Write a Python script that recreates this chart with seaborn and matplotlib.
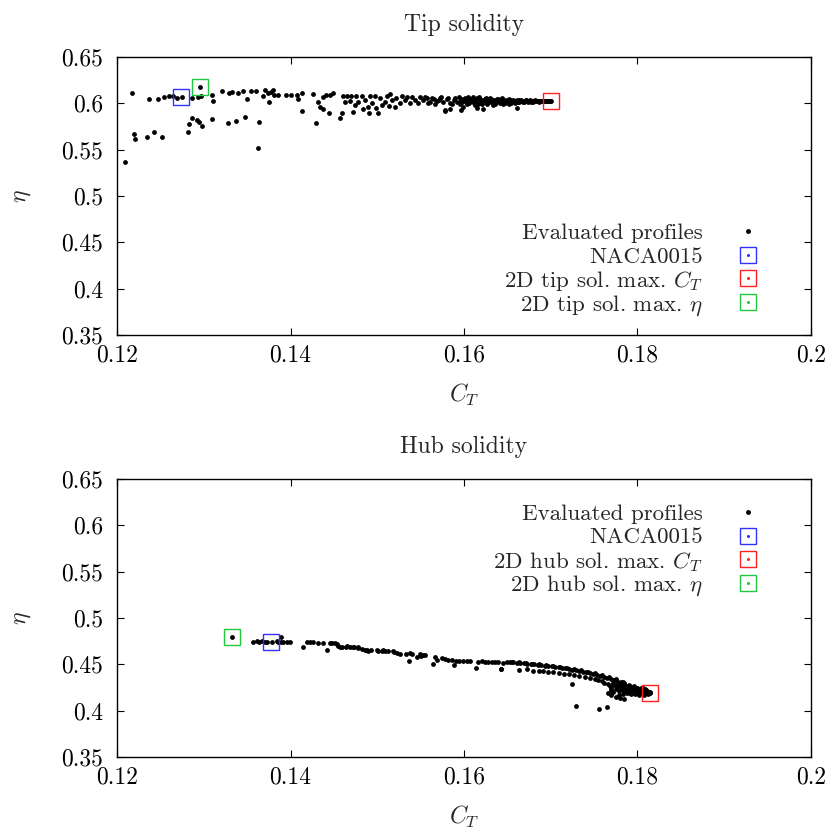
import matplotlib
matplotlib.use("Agg")
import matplotlib.pyplot as plt
import seaborn as sns
import pandas as pd
from matplotlib.ticker import FuncFormatter

# Data (C_T, eta)

tip_points = [
    (0.1209, 0.537), (0.1217, 0.6115), (0.1220, 0.5669), (0.1221, 0.5612), (0.1235, 0.564),
    (0.1237, 0.6044), (0.1243, 0.5688), (0.1247, 0.6047), (0.1252, 0.564), (0.1254, 0.6065),
    (0.1260, 0.6079), (0.1265, 0.6079), (0.1269, 0.6058), (0.1275, 0.6072), (0.1282, 0.5694),
    (0.1283, 0.5774), (0.1287, 0.5839), (0.1287, 0.6061), (0.1292, 0.582), (0.1293, 0.6065),
    (0.1295, 0.5802), (0.1296, 0.618), (0.1297, 0.6079), (0.1298, 0.5759), (0.1309, 0.6093),
    (0.1310, 0.5828), (0.1311, 0.6028), (0.1321, 0.6133), (0.1328, 0.5785), (0.1329, 0.6115),
    (0.1333, 0.6122), (0.1337, 0.5809), (0.1340, 0.6115), (0.1345, 0.6133), (0.1348, 0.5849),
    (0.1350, 0.605), (0.1355, 0.6133), (0.1360, 0.6133), (0.1363, 0.5515), (0.1364, 0.5795),
    (0.1368, 0.6079), (0.1371, 0.614), (0.1374, 0.6108), (0.1375, 0.6014), (0.1377, 0.6126),
    (0.1380, 0.6144), (0.1381, 0.6087), (0.1386, 0.609), (0.1395, 0.609), (0.1401, 0.609),
    (0.1407, 0.609), (0.1413, 0.6108), (0.1409, 0.6044), (0.1413, 0.5921), (0.1426, 0.6101),
    (0.1429, 0.5791), (0.1432, 0.6014), (0.1434, 0.5964), (0.1437, 0.6072), (0.1438, 0.5936),
    (0.1441, 0.6093), (0.1444, 0.59), (0.1446, 0.609), (0.1449, 0.6108), (0.1457, 0.5839),
    (0.1459, 0.5893), (0.1461, 0.6079), (0.1463, 0.6018), (0.1465, 0.6079), (0.1469, 0.6028),
    (0.1470, 0.6079), (0.1472, 0.591), (0.1474, 0.5982), (0.1476, 0.6079), (0.1478, 0.6018),
    (0.1482, 0.6079), (0.1484, 0.5936), (0.1486, 0.6036), (0.1489, 0.5964), (0.1490, 0.5893),
    (0.1492, 0.6079), (0.1494, 0.6), (0.1497, 0.6079), (0.1499, 0.5946), (0.1501, 0.5893),
    (0.1503, 0.6054), (0.1505, 0.5982), (0.1509, 0.6018), (0.1511, 0.6079), (0.1513, 0.5971),
    (0.1515, 0.6101), (0.1517, 0.6036), (0.1520, 0.5964), (0.1522, 0.6054), (0.1526, 0.6),
    (0.1528, 0.6079), (0.1532, 0.6036), (0.1534, 0.6072), (0.1538, 0.6007), (0.1540, 0.6065),
    (0.1544, 0.6036), (0.1547, 0.6007), (0.1549, 0.6072), (0.1553, 0.6036), (0.1557, 0.6054),
    (0.1561, 0.6018), (0.1565, 0.6044), (0.1569, 0.6028), (0.1572, 0.6054), (0.1576, 0.6018),
    (0.1578, 0.5921), (0.1580, 0.6044), (0.1584, 0.6007), (0.1588, 0.6036), (0.1592, 0.6018),
    (0.1595, 0.5993), (0.1597, 0.6044), (0.1599, 0.5964), (0.1603, 0.6018),
    (0.1578, 0.5928), (0.1584, 0.594), (0.1597, 0.5928), (0.1615, 0.5946), (0.1622, 0.5939),
    (0.1661, 0.5946), (0.1633, 0.5985), (0.1645, 0.599), (0.1652, 0.5995),
    (0.1555, 0.6068), (0.1559, 0.6005), (0.1563, 0.6062), (0.1567, 0.5998), (0.1571, 0.6040),
    (0.1574, 0.6068), (0.1582, 0.6060), (0.1586, 0.5990), (0.1590, 0.6055), (0.1594, 0.6068),
    (0.1596, 0.6030), (0.1598, 0.6010), (0.1600, 0.6048),
    (0.1601, 0.6058), (0.1602, 0.6012), (0.1603, 0.6036), (0.1605, 0.6072), (0.1606, 0.6),
    (0.1607, 0.6044), (0.1608, 0.6025), (0.1610, 0.6065), (0.1611, 0.6005), (0.1612, 0.604),
    (0.1614, 0.6018), (0.1615, 0.6058), (0.1616, 0.5995), (0.1618, 0.6032), (0.1619, 0.605),
    (0.1620, 0.601), (0.1622, 0.604), (0.1623, 0.6022), (0.1625, 0.606), (0.1626, 0.6002),
    (0.1628, 0.6035), (0.1629, 0.6015), (0.1631, 0.6048), (0.1632, 0.6028), (0.1634, 0.6005),
    (0.1635, 0.604), (0.1637, 0.602), (0.1638, 0.6052), (0.1640, 0.603), (0.1641, 0.601),
    (0.1643, 0.6042), (0.1645, 0.6022), (0.1646, 0.6035), (0.1648, 0.6012), (0.1650, 0.604),
    (0.1651, 0.6025), (0.1653, 0.6032), (0.1655, 0.6015), (0.1656, 0.6038), (0.1658, 0.6022),
    (0.1660, 0.603), (0.1662, 0.6018), (0.1663, 0.6036), (0.1665, 0.6025), (0.1667, 0.603),
    (0.1669, 0.602), (0.1671, 0.6032), (0.1673, 0.6024), (0.1675, 0.6028), (0.1677, 0.602),
    (0.1679, 0.603), (0.1681, 0.6025), (0.1683, 0.6028), (0.1685, 0.6022), (0.1687, 0.6027),
    (0.1689, 0.6024), (0.1691, 0.6028), (0.1693, 0.6025), (0.1695, 0.6027), (0.1697, 0.6025),
    (0.1700, 0.6025),
    (0.1604, 0.5990), (0.1609, 0.6052), (0.1613, 0.5985), (0.1617, 0.6068), (0.1621, 0.5998),
    (0.1624, 0.6048), (0.1627, 0.5992), (0.1630, 0.6060), (0.1633, 0.6018), (0.1636, 0.5998),
    (0.1639, 0.6045), (0.1642, 0.6000), (0.1644, 0.6055), (0.1647, 0.6002), (0.1649, 0.6028),
    (0.1652, 0.6046), (0.1654, 0.6005), (0.1657, 0.6028), (0.1659, 0.6008), (0.1661, 0.6040),
    (0.1664, 0.6010), (0.1666, 0.6038), (0.1668, 0.6014), (0.1670, 0.6026), (0.1672, 0.6036),
    (0.1674, 0.6016), (0.1676, 0.6034), (0.1678, 0.6026), (0.1680, 0.6018), (0.1682, 0.6032),
    (0.1684, 0.6030), (0.1686, 0.6018), (0.1688, 0.6031), (0.1690, 0.6021), (0.1692, 0.6030),
    (0.1694, 0.6022), (0.1696, 0.6029), (0.1698, 0.6022), (0.1699, 0.6028),
]

hub_points = [
    (0.1333, 0.480), (0.13564, 0.4741), (0.1361, 0.4748), (0.1364, 0.4745), (0.13668, 0.4748),
    (0.13706, 0.4741), (0.13732, 0.4745), (0.13783, 0.4741), (0.1384, 0.4748), (0.1386, 0.4738),
    (0.13887, 0.4795), (0.13887, 0.4745), (0.13917, 0.4741), (0.13956, 0.4745), (0.13994, 0.4745),
    (0.1414, 0.4687), (0.14186, 0.4741), (0.14225, 0.4741), (0.14263, 0.4741), (0.1432, 0.473),
    (0.14378, 0.473), (0.14425, 0.4652), (0.14455, 0.473), (0.14475, 0.473), (0.14513, 0.473),
    (0.14532, 0.472), (0.14551, 0.4695), (0.1457, 0.4684), (0.1459, 0.4684), (0.1464, 0.4684),
    (0.14648, 0.4695), (0.14686, 0.4684), (0.14724, 0.4684), (0.14732, 0.4684), (0.1478, 0.4677),
    (0.14782, 0.4684), (0.1482, 0.4669), (0.14859, 0.4658), (0.14878, 0.4659), (0.14897, 0.4647),
    (0.14925, 0.4658), (0.14993, 0.4652), (0.15012, 0.4641), (0.15051, 0.4647), (0.1507, 0.4652),
    (0.15089, 0.4641), (0.15127, 0.4641), (0.15185, 0.4641), (0.15193, 0.4633), (0.15224, 0.4623),
    (0.15262, 0.4612), (0.15331, 0.4612), (0.1537, 0.454), (0.15377, 0.4623), (0.15396, 0.4612),
    (0.15461, 0.4576), (0.15492, 0.4612), (0.155, 0.4587), (0.15531, 0.4605), (0.1555, 0.4598),
    (0.15646, 0.4504), (0.15666, 0.4576), (0.15692, 0.455), (0.15743, 0.4569), (0.15781, 0.4561),
    (0.15819, 0.455), (0.15858, 0.455), (0.15885, 0.449), (0.15908, 0.454), (0.15946, 0.4533),
    (0.15985, 0.454), (0.16031, 0.4533), (0.16069, 0.4533), (0.16138, 0.4461), (0.16165, 0.4526),
    (0.16204, 0.4533), (0.16242, 0.4526), (0.1628, 0.4526), (0.16319, 0.4526), (0.16357, 0.4522),
    (0.16395, 0.4526), (0.16422, 0.4453), (0.16453, 0.4515), (0.16492, 0.4526),
    (0.1653, 0.4522), (0.1657, 0.4526), (0.1661, 0.4518), (0.1665, 0.4515), (0.1669, 0.4511),
    (0.1673, 0.4508), (0.1677, 0.4504), (0.1681, 0.45), (0.1685, 0.4497), (0.1689, 0.4493),
    (0.1693, 0.4488), (0.1697, 0.4484), (0.1701, 0.448), (0.1705, 0.4475), (0.1709, 0.447),
    (0.1713, 0.4463), (0.1717, 0.4457), (0.1721, 0.445), (0.1725, 0.4443), (0.1729, 0.4436),
    (0.1733, 0.443), (0.1737, 0.4423), (0.1741, 0.4416), (0.1745, 0.4408), (0.1749, 0.4398),
    (0.1753, 0.4388), (0.1757, 0.4377), (0.1761, 0.4366), (0.1765, 0.4355), (0.1769, 0.4344),
    (0.1773, 0.4333), (0.1777, 0.4322), (0.1781, 0.431), (0.1785, 0.4298),
    (0.1655, 0.4530), (0.1663, 0.4524), (0.1671, 0.4516), (0.1679, 0.4508), (0.1687, 0.4502),
    (0.1695, 0.4494), (0.1703, 0.4484), (0.1711, 0.4474), (0.1719, 0.4462), (0.1727, 0.4448),
    (0.1735, 0.4436), (0.1743, 0.4420), (0.1751, 0.4402), (0.1759, 0.4382), (0.1767, 0.4360),
    (0.1775, 0.4338), (0.1783, 0.4315),
    (0.1643, 0.4453), (0.1664, 0.4442), (0.1673, 0.4453), (0.168, 0.4432), (0.1687, 0.4432),
    (0.1691, 0.4425), (0.1697, 0.442), (0.1703, 0.4414), (0.1709, 0.4408), (0.1715, 0.44),
    (0.1721, 0.4393), (0.1727, 0.4384), (0.1733, 0.4375), (0.1739, 0.4366), (0.1745, 0.4355),
    (0.1751, 0.4343), (0.1755, 0.433), (0.1759, 0.4316), (0.1762, 0.43),
    (0.1724, 0.4291), (0.1729, 0.4047), (0.1756, 0.4022), (0.1765, 0.404),
    (0.1766, 0.429), (0.1768, 0.4262), (0.177, 0.424), (0.1772, 0.43), (0.1773, 0.4275),
    (0.1775, 0.423), (0.1776, 0.4255), (0.1778, 0.429), (0.1779, 0.4212), (0.178, 0.4245),
    (0.1781, 0.427), (0.1783, 0.4225), (0.1784, 0.4285), (0.1785, 0.42), (0.1786, 0.425),
    (0.1787, 0.4265), (0.1788, 0.4215), (0.1789, 0.4235), (0.179, 0.4275), (0.1791, 0.419),
    (0.1792, 0.4225), (0.1793, 0.4255), (0.1794, 0.4205), (0.1795, 0.424), (0.1796, 0.4265),
    (0.1797, 0.418), (0.1798, 0.422), (0.1799, 0.425), (0.18, 0.42), (0.1801, 0.4235),
    (0.1802, 0.4175), (0.1803, 0.4215), (0.1804, 0.4245), (0.1805, 0.419), (0.1806, 0.4225),
    (0.1807, 0.4205), (0.1808, 0.417), (0.1809, 0.4235), (0.181, 0.4195), (0.1811, 0.4215),
    (0.1812, 0.418), (0.1813, 0.4205), (0.1814, 0.419), (0.1815, 0.4198),
    (0.1766, 0.419), (0.177, 0.417), (0.1775, 0.415), (0.178, 0.414), (0.1785, 0.413),
    (0.1777, 0.4270), (0.1782, 0.4255), (0.1787, 0.4240), (0.1791, 0.4220), (0.1794, 0.4260),
    (0.1797, 0.4235), (0.1800, 0.4250), (0.1802, 0.4230), (0.1804, 0.4205), (0.1806, 0.4240),
    (0.1808, 0.4215), (0.1810, 0.4228), (0.1812, 0.4200), (0.1798, 0.4195), (0.1793, 0.4185),
    (0.1788, 0.4195), (0.1783, 0.4180), (0.1779, 0.4165), (0.1772, 0.4205), (0.1769, 0.4225),
]

# highlighted profiles: NACA0015, max C_T, max eta
tip_special = [(0.1274, 0.6065), (0.1700, 0.6025), (0.1296, 0.6180)]
hub_special = [(0.1378, 0.4741), (0.1814, 0.4190), (0.1333, 0.4800)]
special_colors = ['#3030ff', '#ff2020', '#20c840']

titles = ['Tip solidity', 'Hub solidity']
tip_labels = ['Evaluated profiles', 'NACA0015', r'2D tip sol. max. $C_T$', r'2D tip sol. max. $\eta$']
hub_labels = ['Evaluated profiles', 'NACA0015', r'2D hub sol. max. $C_T$', r'2D hub sol. max. $\eta$']

xticks = [0.12, 0.14, 0.16, 0.18, 0.2]
yticks = [0.35, 0.4, 0.45, 0.5, 0.55, 0.6, 0.65]

sns.set_style('ticks')
plt.rcParams['font.family'] = ['cmr10', 'DejaVu Serif']
plt.rcParams['mathtext.fontset'] = 'cm'
plt.rcParams['axes.formatter.use_mathtext'] = True

FS = 17

fig = plt.figure(figsize=(8.3, 8.38), dpi=100)
ax_top = fig.add_axes([0.141, 0.6002, 0.836, 0.3317])
ax_bot = fig.add_axes([0.141, 0.0966, 0.836, 0.3317])

# key rows (axes coords): first row y
panels = [
    (ax_top, tip_points, tip_special, tip_labels, titles[0], 0.3730),
    (ax_bot, hub_points, hub_special, hub_labels, titles[1], 0.8813),
]

for ax, pts, special, labels, title, key_y in panels:
    df = pd.DataFrame(pts, columns=['CT', 'eta'])
    sns.scatterplot(data=df, x='CT', y='eta', ax=ax, color='black', s=12, linewidth=0)
    for (cx, cy), c in zip(special, special_colors):
        ax.plot(cx, cy, marker='s', ms=11.5, mfc='none', mec=c, mew=1.0, ls='none')

    ax.set_xlim(0.12, 0.2)
    ax.set_ylim(0.35, 0.65)
    ax.set_xticks(xticks)
    ax.set_yticks(yticks)
    ax.xaxis.set_major_formatter(FuncFormatter(lambda v, p: '%g' % v))
    ax.yaxis.set_major_formatter(FuncFormatter(lambda v, p: '%g' % v))
    ax.tick_params(direction='in', top=True, right=True, length=5, width=0.8,
                   labelsize=FS, colors='black')
    ax.tick_params(axis='y', pad=10)
    ax.tick_params(axis='x', pad=7)
    for sp in ax.spines.values():
        sp.set_linewidth(1.0)
        sp.set_color('black')
    ax.set_xlabel(r'$C_T$', fontsize=FS, labelpad=11)
    ax.set_ylabel(r'$\eta$', fontsize=FS, labelpad=20)
    ax.set_title(title, fontsize=FS, pad=19)

    # gnuplot-style key: right-aligned text, symbol to the right, fixed row step
    step = 0.0845
    for i, lab in enumerate(labels):
        yk = key_y - i * step
        ax.text(0.8444, yk, lab, transform=ax.transAxes, ha='right',
                va='center_baseline', fontsize=16.5)
        if i == 0:
            ax.plot([0.9092], [yk], transform=ax.transAxes, marker='o', ms=2.5,
                    color='black', ls='none', clip_on=False)
        else:
            c = special_colors[i - 1]
            ax.plot([0.9092], [yk], transform=ax.transAxes, marker='s', ms=11.5,
                    mfc='none', mec=c, mew=1.0, ls='none', clip_on=False)
            ax.plot([0.9092], [yk], transform=ax.transAxes, marker='o', ms=1.2,
                    color=c, ls='none', clip_on=False)

fig.savefig('out.png', dpi=100)
